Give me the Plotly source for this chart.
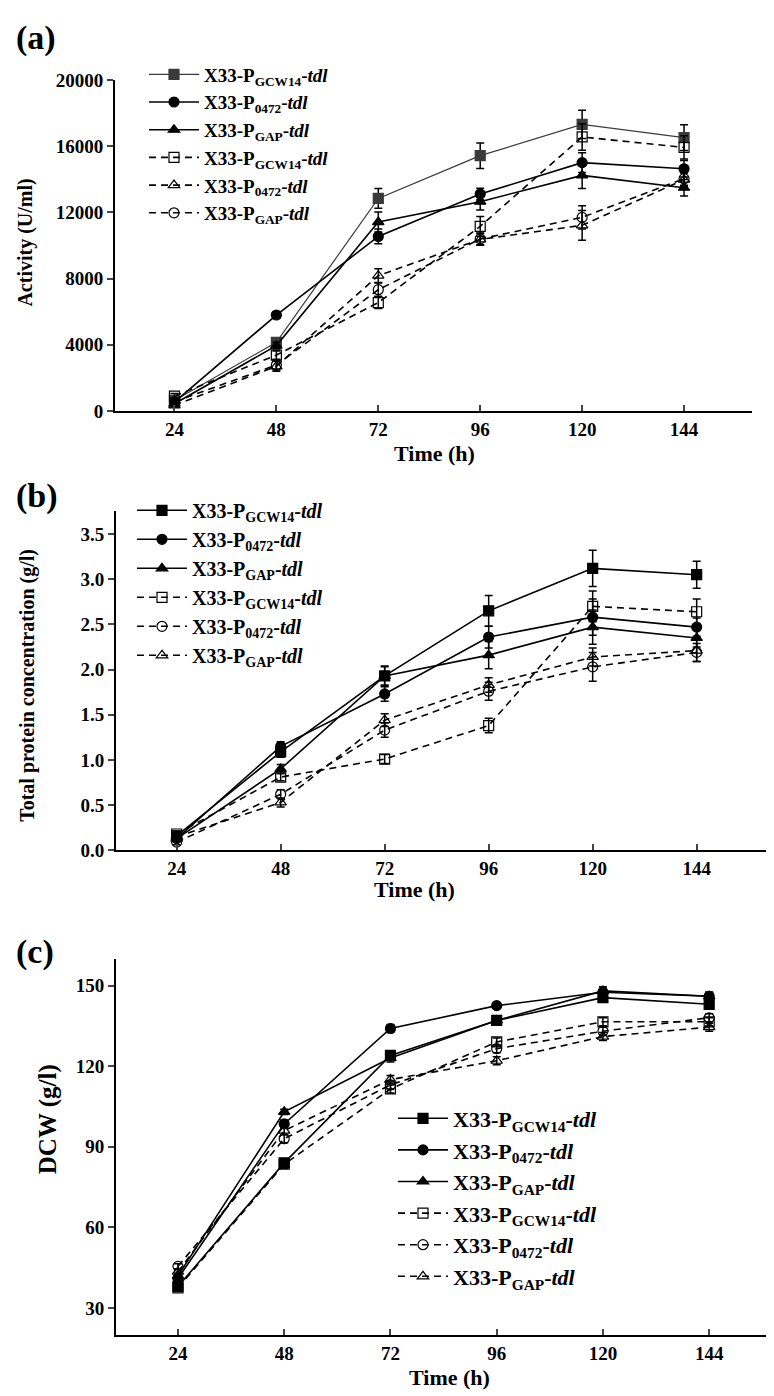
import plotly.graph_objects as go

time_h = [24, 48, 72, 96, 120, 144]

# (a) Activity (U/ml)
act_gcw14 = [640, 4150, 12850, 15430, 17320, 16520]
act_0472 = [540, 5800, 10550, 13110, 15010, 14640]
act_gap = [440, 3950, 11420, 12650, 14240, 13490]
act_gcw14_d = [900, 3380, 6550, 11160, 16560, 15930]
act_0472_d = [340, 2700, 8180, 10370, 11220, 13980]
act_gap_d = [560, 2780, 7330, 10400, 11700, 14040]
err_act_gcw14 = [150, 250, 600, 770, 850, 780]
err_act_0472 = [100, 200, 450, 350, 600, 500]
err_act_gap = [100, 200, 600, 500, 800, 500]
err_act_gcw14_d = [150, 250, 350, 600, 800, 700]
err_act_0472_d = [100, 300, 420, 350, 900, 400]
err_act_gap_d = [100, 300, 400, 350, 700, 400]

# (b) Total protein concentration (g/l)
prot_gcw14 = [0.16, 1.09, 1.93, 2.65, 3.12, 3.05]
prot_0472 = [0.13, 1.15, 1.73, 2.36, 2.58, 2.47]
prot_gap = [0.13, 0.90, 1.93, 2.16, 2.47, 2.35]
prot_gcw14_d = [0.18, 0.81, 1.01, 1.38, 2.70, 2.64]
prot_0472_d = [0.09, 0.62, 1.33, 1.76, 2.03, 2.19]
prot_gap_d = [0.15, 0.53, 1.44, 1.83, 2.14, 2.21]
err_prot_gcw14 = [0.03, 0.06, 0.11, 0.17, 0.20, 0.15]
err_prot_0472 = [0.03, 0.05, 0.08, 0.12, 0.20, 0.10]
err_prot_gap = [0.03, 0.05, 0.10, 0.15, 0.19, 0.10]
err_prot_gcw14_d = [0.03, 0.04, 0.05, 0.08, 0.17, 0.14]
err_prot_0472_d = [0.03, 0.05, 0.08, 0.10, 0.16, 0.10]
err_prot_gap_d = [0.03, 0.05, 0.07, 0.08, 0.10, 0.12]

# (c) DCW (g/l)
dcw_gcw14 = [38, 84, 124, 137, 145.5, 143]
dcw_0472 = [41, 98.5, 134, 142.5, 147.5, 146]
dcw_gap = [42, 103, 123, 137, 148, 146]
dcw_gcw14_d = [37.5, 83.5, 111.5, 129, 136.5, 136.5]
dcw_0472_d = [45.5, 93, 113, 126.5, 133, 138]
dcw_gap_d = [43.5, 96, 115, 122, 131, 134.5]
err_dcw_gcw14 = [1.0, 1.5, 1.5, 1.5, 1.5, 1.5]
err_dcw_0472 = [1.0, 1.5, 1.5, 1.0, 1.5, 1.5]
err_dcw_gap = [1.0, 1.0, 1.5, 1.5, 1.5, 1.5]
err_dcw_gcw14_d = [1.0, 1.5, 1.5, 1.5, 1.5, 1.5]
err_dcw_0472_d = [1.0, 1.5, 1.5, 1.5, 1.5, 1.5]
err_dcw_gap_d = [1.0, 1.5, 1.5, 1.5, 1.5, 1.5]

lab_gcw14 = "X33-P<sub>GCW14</sub>-<i>tdl</i>"
lab_0472 = "X33-P<sub>0472</sub>-<i>tdl</i>"
lab_gap = "X33-P<sub>GAP</sub>-<i>tdl</i>"

FONT = "Liberation Serif"
W, H = 774, 1396

fig = go.Figure()


def add(y, err, name, symbol, dash, xa, ya, leg, color="black", lw=1.6):
    fig.add_trace(go.Scatter(
        x=time_h, y=y, name=name, mode="lines+markers",
        xaxis=xa, yaxis=ya, legend=leg,
        line=dict(color=color, width=lw, dash=dash),
        marker=dict(symbol=symbol, size=10, color=color,
                    line=dict(color=color, width=1.2)),
        error_y=dict(type="data", array=err, visible=True, color="black",
                     thickness=1.5, width=4),
    ))


DASH = "7px,5px"
# panel (a)
add(act_gcw14, err_act_gcw14, lab_gcw14, "square", "solid", "x", "y", "legend", color="#3a3a3a", lw=1.2)
add(act_0472, err_act_0472, lab_0472, "circle", "solid", "x", "y", "legend")
add(act_gap, err_act_gap, lab_gap, "triangle-up", "solid", "x", "y", "legend")
add(act_gcw14_d, err_act_gcw14_d, lab_gcw14, "square-open", DASH, "x", "y", "legend")
add(act_0472_d, err_act_0472_d, lab_0472, "triangle-up-open", DASH, "x", "y", "legend")
add(act_gap_d, err_act_gap_d, lab_gap, "circle-open", DASH, "x", "y", "legend")
# panel (b)
add(prot_gcw14, err_prot_gcw14, lab_gcw14, "square", "solid", "x2", "y2", "legend2")
add(prot_0472, err_prot_0472, lab_0472, "circle", "solid", "x2", "y2", "legend2")
add(prot_gap, err_prot_gap, lab_gap, "triangle-up", "solid", "x2", "y2", "legend2")
add(prot_gcw14_d, err_prot_gcw14_d, lab_gcw14, "square-open", DASH, "x2", "y2", "legend2")
add(prot_0472_d, err_prot_0472_d, lab_0472, "circle-open", DASH, "x2", "y2", "legend2")
add(prot_gap_d, err_prot_gap_d, lab_gap, "triangle-up-open", DASH, "x2", "y2", "legend2")
# panel (c)
add(dcw_gcw14, err_dcw_gcw14, lab_gcw14, "square", "solid", "x3", "y3", "legend3")
add(dcw_0472, err_dcw_0472, lab_0472, "circle", "solid", "x3", "y3", "legend3")
add(dcw_gap, err_dcw_gap, lab_gap, "triangle-up", "solid", "x3", "y3", "legend3")
add(dcw_gcw14_d, err_dcw_gcw14_d, lab_gcw14, "square-open", DASH, "x3", "y3", "legend3")
add(dcw_0472_d, err_dcw_0472_d, lab_0472, "circle-open", DASH, "x3", "y3", "legend3")
add(dcw_gap_d, err_dcw_gap_d, lab_gap, "triangle-up-open", DASH, "x3", "y3", "legend3")

tickfont = dict(family=FONT, size=19, color="black", weight="bold")


def xax(x0, x1, anchor):
    return dict(domain=[x0 / W, x1 / W], anchor=anchor, range=[10, 160],
                tickvals=time_h, ticks="inside", ticklen=6, tickwidth=1.5,
                showline=True, linecolor="black", linewidth=1.8,
                showgrid=False, zeroline=False, tickfont=tickfont)


def yax(y0, y1, anchor, rng, dtick, tick0, fmt="d"):
    return dict(domain=[1 - y1 / H, 1 - y0 / H], anchor=anchor, range=rng,
                dtick=dtick, tick0=tick0, ticks="outside", ticklen=6, tickwidth=1.5,
                showline=True, linecolor="black", linewidth=1.8,
                showgrid=False, zeroline=False, tickfont=tickfont,
                tickformat=fmt)


def leg(x, y, size):
    return dict(x=x / W, y=1 - y / H, xanchor="left", yanchor="top",
                bgcolor="rgba(0,0,0,0)", itemwidth=50, tracegroupgap=0,
                font=dict(family=FONT, size=size, color="black", weight="bold"))


annotations = []
for txt, x, y in [("(a)", 6, 20), ("(b)", 6, 485), ("(c)", 6, 948)]:
    annotations.append(dict(text=txt, x=x / W, y=1 - y / H, xref="paper", yref="paper",
                            xanchor="left", yanchor="middle", showarrow=False,
                            font=dict(family=FONT, size=34, color="black", weight="bold")))
for txt, x, y in [("Time (h)", 426, 442), ("Time (h)", 406, 885), ("Time (h)", 441, 1380)]:
    annotations.append(dict(text=txt, x=x / W, y=1 - y / H, xref="paper", yref="paper",
                            xanchor="center", yanchor="middle", showarrow=False,
                            font=dict(family=FONT, size=22, color="black", weight="bold")))
for txt, x, y, s in [("Activity (U/ml)", 18, 228, 20), ("Total protein concentration (g/l)", 20, 678, 20),
                     ("DCW (g/l)", 40, 1118, 25)]:
    annotations.append(dict(text=txt, x=x / W, y=1 - y / H, xref="paper", yref="paper",
                            xanchor="center", yanchor="middle", showarrow=False,
                            textangle=-90, font=dict(family=FONT, size=s, color="black", weight="bold")))

fig.update_layout(
    width=W, height=H,
    margin=dict(l=0, r=0, t=0, b=0),
    paper_bgcolor="white", plot_bgcolor="white",
    showlegend=True,
    xaxis=xax(107, 744, "y"),
    yaxis=yax(63, 399, "x", [0, 20000], 4000, 0),
    xaxis2=xax(108, 758, "y2"),
    yaxis2=yax(501, 845, "x2", [0, 3.75], 0.5, 0, ".1f"),
    xaxis3=xax(108, 772, "y3"),
    yaxis3=yax(955, 1337, "x3", [20, 160], 30, 30),
    legend=leg(136, 38, 19),
    legend2=leg(124, 480, 20),
    legend3=leg(385, 1096, 22),
    annotations=annotations,
)

fig.write_html("out.html")
